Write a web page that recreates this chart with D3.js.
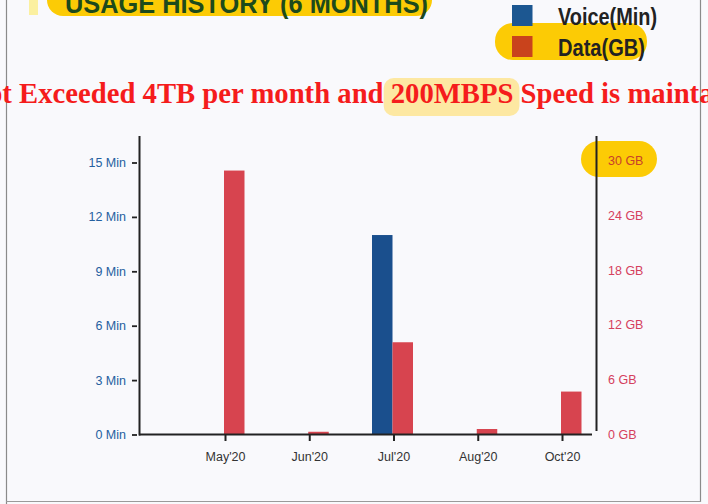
<!DOCTYPE html>
<html>
<head>
<meta charset="utf-8">
<script src="https://cdn.jsdelivr.net/npm/d3@7"></script>
<style>
  html, body { margin: 0; padding: 0; background: #f9f9fc; }
  svg { display: block; }
</style>
</head>
<body>
<div id="content"></div>
<script>
// chart values
const months = ["May'20", "Jun'20", "Jul'20", "Aug'20", "Oct'20"];
const voiceMin = [0, 0, 11, 0, 0];
const dataGB = [28.9, 0.3, 10.1, 0.6, 4.7];
const minTicks = [0, 3, 6, 9, 12, 15];
const gbTicks = [0, 6, 12, 18, 24, 30];
const seriesNames = ["Voice(Min)", "Data(GB)"];
const titleText = "USAGE HISTORY (6 MONTHS)";
const noteText = "ot Exceeded 4TB per month and 200MBPS Speed is mainta";
const noteMark = "200MBPS";

const width = 708;
const height = 504;

const svg = d3.select("#content")
  .append("svg")
  .attr("width", width)
  .attr("height", height);

svg.append("rect").attr("width", width).attr("height", height).attr("fill", "#f9f9fc");

// scanned page borders
svg.append("line").attr("x1", 6.5).attr("x2", 6.5).attr("y1", 0).attr("y2", 504)
  .attr("stroke", "#8a8a8a").attr("stroke-width", 1.2);
svg.append("line").attr("x1", 700.5).attr("x2", 700.5).attr("y1", 0).attr("y2", 502)
  .attr("stroke", "#8a8a8a").attr("stroke-width", 1.2);
svg.append("line").attr("x1", 6).attr("x2", 701).attr("y1", 501.5).attr("y2", 501.5)
  .attr("stroke", "#9a9a9a").attr("stroke-width", 1.2);

// title (cut at top)
svg.append("rect").attr("x", 29).attr("y", 0).attr("width", 9).attr("height", 15)
  .attr("fill", "#fbf0a0");
svg.append("rect").attr("x", 47).attr("y", -22).attr("width", 385).attr("height", 38)
  .attr("rx", 16).attr("fill", "#fccb05");
svg.append("text")
  .attr("x", 65).attr("y", 13)
  .attr("textLength", 363).attr("lengthAdjust", "spacingAndGlyphs")
  .attr("font-family", "Liberation Sans, Arial, sans-serif")
  .attr("font-weight", "bold").attr("font-size", 27)
  .attr("fill", "#1d4a1c")
  .text(titleText);

// legend
svg.append("rect").attr("x", 495).attr("y", 23).attr("width", 152).attr("height", 37)
  .attr("rx", 18).attr("fill", "#fccb05");
const legendColors = ["#1c5791", "#c9431c"];
const legend = svg.selectAll(".legend").data(seriesNames).enter().append("g")
  .attr("class", "legend")
  .attr("transform", (d, i) => `translate(512,${5 + i * 31})`);
legend.append("rect").attr("width", 20.5).attr("height", 21)
  .attr("fill", (d, i) => legendColors[i]);
legend.append("text")
  .attr("x", 46).attr("y", 19.5)
  .attr("textLength", (d, i) => (i === 0 ? 99 : 87)).attr("lengthAdjust", "spacingAndGlyphs")
  .attr("font-family", "Liberation Sans, Arial, sans-serif")
  .attr("font-weight", "bold").attr("font-size", 23)
  .attr("fill", "#222")
  .text(d => d);

// red note line with highlighted speed
const noteG = svg.append("g");
const noteHl = noteG.append("rect").attr("fill", "#fde8a2").attr("rx", 10);
const note = noteG.append("text")
  .attr("x", -12).attr("y", 103)
  .attr("font-family", "Liberation Serif, Times New Roman, serif")
  .attr("font-weight", "bold").attr("font-size", 28.7)
  .attr("fill", "#f51c1c")
  .text(noteText);
const markIdx = noteText.indexOf(noteMark);
const markX = note.node().getStartPositionOfChar(markIdx).x;
const markW = note.node().getSubStringLength(markIdx, noteMark.length);
noteHl.attr("x", markX - 7).attr("y", 78).attr("width", markW + 13).attr("height", 38);

// scales
const x = d3.scalePoint().domain(months).range([225, 562]);
const xSub = d3.scaleBand().domain(seriesNames).range([-21.5, 19.5]);
const yMin = d3.scaleLinear().domain([0, 15]).range([434.5, 162.5]);
const yGB = d3.scaleLinear().domain([0, 30]).range([434.5, 160.5]);

// highlight on top GB tick
svg.append("rect").attr("x", 581).attr("y", 141).attr("width", 76).attr("height", 36)
  .attr("rx", 18).attr("fill", "#fccb05");

// bars
const rows = months.map((m, i) => ({ month: m, voice: voiceMin[i], data: dataGB[i] }));
svg.selectAll(".voice").data(rows).enter().append("rect")
  .attr("class", "voice")
  .attr("x", d => x(d.month) + xSub("Voice(Min)"))
  .attr("width", xSub.bandwidth())
  .attr("y", d => yMin(d.voice))
  .attr("height", d => yMin(0) - yMin(d.voice))
  .attr("fill", "#1a4f8d");
svg.selectAll(".data").data(rows).enter().append("rect")
  .attr("class", "data")
  .attr("x", d => x(d.month) + xSub("Data(GB)"))
  .attr("width", xSub.bandwidth())
  .attr("y", d => yGB(d.data))
  .attr("height", d => yGB(0) - yGB(d.data))
  .attr("fill", "#d7444f");

const tickFont = "Liberation Sans, Arial, sans-serif";

// left axis
const leftAxis = svg.append("g")
  .attr("transform", "translate(137,0)")
  .call(d3.axisLeft(yMin).tickValues(minTicks).tickSize(5).tickPadding(6).tickFormat(d => d + " Min"));
leftAxis.select(".domain").remove();
leftAxis.selectAll("line").attr("stroke", "#222").attr("stroke-width", 1.8);
leftAxis.selectAll("text").attr("fill", "#2560a0").attr("font-size", 12.5).attr("font-family", tickFont);
svg.append("line").attr("x1", 139.5).attr("x2", 139.5).attr("y1", 136).attr("y2", 435.5)
  .attr("stroke", "#222").attr("stroke-width", 2);

// right axis
const rightAxis = svg.append("g")
  .attr("transform", "translate(596.5,0)")
  .call(d3.axisRight(yGB).tickValues(gbTicks).tickSize(0).tickPadding(11.5).tickFormat(d => d + " GB"));
rightAxis.select(".domain").remove();
rightAxis.selectAll("text").attr("fill", (d, i) => (d === 30 ? "#c8402a" : "#d5405e"))
  .attr("font-size", 12.5).attr("font-family", tickFont);
svg.append("line").attr("x1", 596.5).attr("x2", 596.5).attr("y1", 136).attr("y2", 431)
  .attr("stroke", "#222").attr("stroke-width", 2);

// bottom axis
const bottomAxis = svg.append("g")
  .attr("transform", "translate(0,434.5)")
  .call(d3.axisBottom(x).tickSize(6.5).tickPadding(11.5));
bottomAxis.select(".domain").remove();
bottomAxis.selectAll("line").attr("stroke", "#222").attr("stroke-width", 2);
bottomAxis.selectAll("text").attr("fill", "#333").attr("font-size", 12.5).attr("font-family", tickFont);
svg.append("line").attr("x1", 139).attr("x2", 592).attr("y1", 434.5).attr("y2", 434.5)
  .attr("stroke", "#222").attr("stroke-width", 2);
</script>
</body>
</html>
